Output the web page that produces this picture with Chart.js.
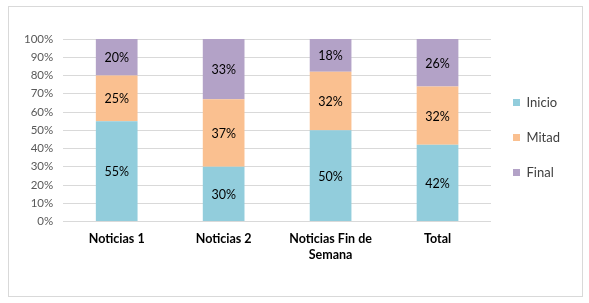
<!DOCTYPE html>
<html>
<head>
<meta charset="utf-8">
<script src="https://cdn.jsdelivr.net/npm/chart.js@4.4.1/dist/chart.umd.min.js"></script>
<style>
  html, body { margin: 0; padding: 0; background: #fff; }
  #box {
    position: absolute; left: 8px; top: 6px;
    width: 573px; height: 289px;
    border: 1px solid #d9d9d9;
  }
  #chart { display: block; }
</style>
</head>
<body>
<div id="box"><canvas id="chart" width="573" height="289"></canvas></div>
<script>
// categorías y series (porcentajes)
const categories = ['Noticias 1', 'Noticias 2', ['Noticias Fin de', 'Semana'], 'Total'];
const inicio = [55, 30, 50, 42];
const mitad = [25, 37, 32, 32];
const final = [20, 33, 18, 26];
const yTicks = [0, 10, 20, 30, 40, 50, 60, 70, 80, 90, 100];

const FONT = 'Lato, "Liberation Sans", sans-serif';

// Etiquetas de datos dentro de cada segmento
const barLabels = {
    id: 'barLabels',
    afterDatasetsDraw(chart) {
        const ctx = chart.ctx;
        ctx.save();
        ctx.font = '12.5px ' + FONT;
        ctx.fillStyle = '#000';
        ctx.textAlign = 'center';
        ctx.textBaseline = 'middle';
        chart.data.datasets.forEach((ds, i) => {
            chart.getDatasetMeta(i).data.forEach((bar, j) => {
                const yMid = (bar.y + bar.base) / 2;
                ctx.fillText(ds.data[j] + '%', bar.x, yMid + 1);
            });
        });
        ctx.restore();
    }
};

new Chart(document.getElementById('chart'), {
    type: 'bar',
    data: {
        labels: categories,
        datasets: [
            { label: 'Inicio', data: inicio, backgroundColor: '#92cddc' },
            { label: 'Mitad', data: mitad, backgroundColor: '#fac090' },
            { label: 'Final', data: final, backgroundColor: '#b3a2c7' }
        ]
    },
    options: {
        responsive: false,
        animation: false,
        layout: { padding: { left: 5, top: 32, right: 12, bottom: 24 } },
        datasets: { bar: { barPercentage: 0.39, categoryPercentage: 1 } },
        plugins: {
            tooltip: { enabled: false },
            legend: {
                position: 'right',
                fullSize: false,
                title: { display: true, text: ' ', font: { size: 12 }, padding: 0 },
                labels: {
                    boxWidth: 7,
                    boxHeight: 7,
                    padding: 22,
                    color: '#404040',
                    font: { family: FONT, size: 13 }
                }
            }
        },
        scales: {
            x: {
                stacked: true,
                grid: { display: false, drawTicks: false },
                border: { display: false },
                ticks: {
                    color: '#000',
                    padding: 9,
                    font: { family: FONT, size: 12.5, weight: 'bold', lineHeight: 1.3 }
                }
            },
            y: {
                stacked: true,
                min: 0,
                max: 100,
                afterBuildTicks: axis => { axis.ticks = yTicks.map(v => ({ value: v })); },
                grid: { color: '#d9d9d9', drawTicks: false },
                border: { display: false },
                ticks: {
                    color: '#595959',
                    padding: 10,
                    autoSkip: false,
                    font: { family: FONT, size: 11.5 },
                    callback: v => v + '%'
                }
            }
        }
    },
    plugins: [barLabels]
});
</script>
</body>
</html>
